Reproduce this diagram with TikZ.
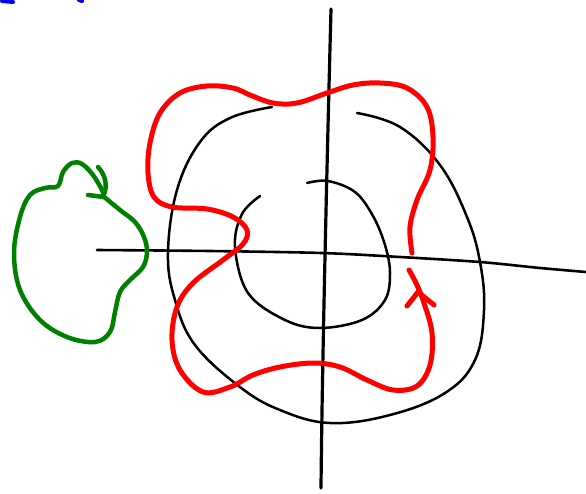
\documentclass[tikz,border=0pt]{standalone}
\begin{document}
\begin{tikzpicture}[x=1pt,y=-1pt,line cap=round,line join=round,
  axis/.style={black,line width=3.2pt},
  curve/.style={black,line width=2.5pt},
  redpath/.style={red,line width=5pt},
  greenpath/.style={green!50!black,line width=4.5pt},
  bluemark/.style={blue,line width=4pt}]
\useasboundingbox (0,0) rectangle (586,493);
% blue marks in the corner
\draw[bluemark] (2,1) -- (13,2);
\draw[bluemark] (79,0) -- (82,1);
% axes
\draw[axis] (331,9) .. controls (326,200) and (322,380) .. (321,488);
\draw[axis,line width=2.6pt] plot[smooth,tension=0.5] coordinates {(97,250) (210,251) (322,253) (400,257) (480,262) (540,268) (586,272)};
% inner spiral
\draw[curve] plot[smooth,tension=0.6] coordinates {(260,196) (242,214) (235,247) (248,293) (285,320) (320,328) (362,320) (385,300) (390,273) (385,245) (373,216) (355,192) (328,181) (307,183)};
% outer spiral
\draw[curve] plot[smooth,tension=0.65] coordinates {(272,107) (230,118) (200,142) (177,190) (168,253) (175,300) (195,345) (240,387) (280,410) (330,423) (390,415) (445,393) (475,360) (484,310) (480,262) (467,217) (440,165) (400,127) (357,113)};
% red curve
\draw[redpath] plot[smooth,tension=0.6] coordinates {(412,253) (410,227) (417,200) (430,170) (433,137) (427,107) (407,88) (380,83) (353,85) (327,93) (297,103) (273,103) (250,95) (233,88) (207,86) (180,93) (160,113) (150,143) (148,173) (154,197) (172,207) (207,209) (233,217) (247,230) (243,244) (223,260) (193,283) (177,307) (172,340) (180,370) (203,392) (230,387) (253,375) (280,367) (313,363) (340,367) (367,380) (393,390) (417,386) (430,365) (432,333) (424,303) (416,283) (409,270)};
\draw[redpath] (407,306) -- (418,292) -- (434,305);
% green curve
\draw[greenpath] plot[smooth,tension=0.6] coordinates {(103,196) (120,210) (135,222) (144,237) (147,252) (143,267) (130,280) (120,292) (115,312) (110,332) (95,342) (67,337) (40,320) (20,290) (14,253) (20,217) (30,195) (45,188) (58,186) (63,172) (72,163) (82,164) (93,175) (102,190) (104,196)};
\draw[greenpath] (98,167) .. controls (106,175) and (108,188) .. (103,196);
\draw[greenpath] (88,195) -- (104,197);
\end{tikzpicture}
\end{document}
